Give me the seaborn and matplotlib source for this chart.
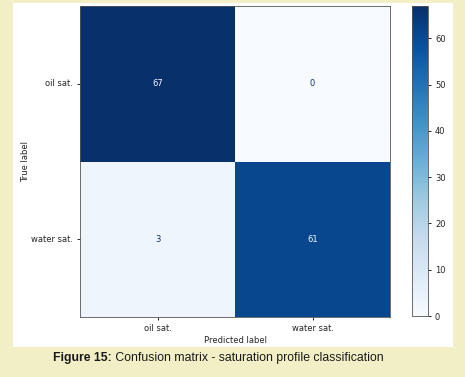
import numpy as np
import pandas as pd
import matplotlib
matplotlib.use("Agg")
import matplotlib.pyplot as plt
from matplotlib.patches import Rectangle
import seaborn as sns

class_names = ["oil sat.", "water sat."]
cm_values = [[67, 0],
             [3, 61]]
cbar_ticks = [0, 10, 20, 30, 40, 50, 60]
caption_bold = "Figure 15:"
caption_rest = " Confusion matrix - saturation profile classification"

cm = pd.DataFrame(cm_values, index=class_names, columns=class_names)

fig = plt.figure(figsize=(4.65, 3.77), dpi=100)
fig.patch.set_facecolor("#f2efc6")
# white panel behind the plot
fig.patches.append(Rectangle((13 / 465, 30 / 377), 440 / 465, 344 / 377,
                             transform=fig.transFigure, facecolor="white",
                             edgecolor="none", zorder=-10))

ax = fig.add_axes([80 / 465, 60 / 377, 310 / 465, 311 / 377])
cax = fig.add_axes([412 / 465, 61 / 377, 16 / 465, 310 / 377])

cmap = plt.get_cmap("Blues")
sns.heatmap(cm, annot=True, fmt="d", cmap=cmap, vmin=0, vmax=67,
            ax=ax, cbar_ax=cax, annot_kws={"fontsize": 6})

# sklearn-like text colours
thresh = 67 / 2
for t, v in zip(ax.texts, np.array(cm_values).ravel()):
    t.set_color(cmap(0.0) if v > thresh else cmap(1.0))

for s in ax.spines.values():
    s.set_visible(True)
    s.set_linewidth(0.6)
    s.set_color("#555555")

txt = "#262626"
ax.set_xlabel("Predicted label", fontsize=6, labelpad=2, color=txt)
ax.set_ylabel("True label", fontsize=6, labelpad=1, color=txt)
ax.tick_params(labelsize=6, length=2.5, width=0.6, pad=2.5, labelcolor=txt)
plt.setp(ax.get_yticklabels(), rotation=0)
plt.setp(ax.get_xticklabels(), rotation=0)

cbar = ax.collections[0].colorbar
cbar.set_ticks(cbar_ticks)
cbar.outline.set_visible(True)
cbar.outline.set_linewidth(0.6)
cbar.outline.set_edgecolor("#555555")
cax.tick_params(labelsize=6, length=2.5, width=0.6, pad=2.5, labelcolor=txt)

# caption with bold prefix
fig.canvas.draw()
renderer = fig.canvas.get_renderer()
cap_size = 8.8
t1 = fig.text(0, 0.05, caption_bold, fontsize=cap_size, fontweight="bold",
              family="Liberation Sans", color="#1a1a1a", va="center")
t2 = fig.text(0, 0.05, caption_rest, fontsize=cap_size,
              family="Liberation Sans", color="#1a1a1a", va="center")
w1 = t1.get_window_extent(renderer).width
w2 = t2.get_window_extent(renderer).width
x0 = (218 - (w1 + w2) / 2) / 465
t1.set_x(x0)
t2.set_x(x0 + w1 / 465)

fig.savefig("out.png", dpi=100, facecolor=fig.get_facecolor())
